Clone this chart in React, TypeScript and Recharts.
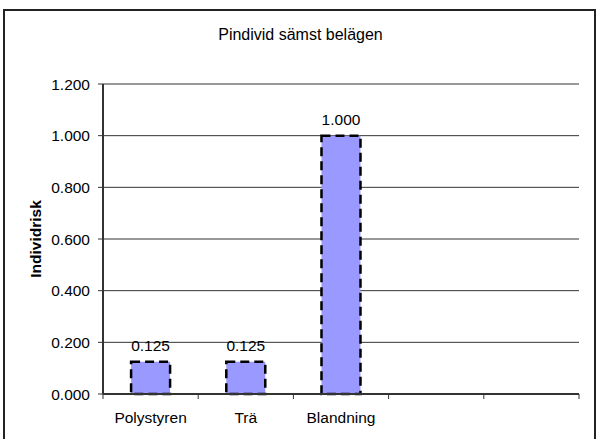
import { BarChart, Bar, XAxis, YAxis, CartesianGrid, LabelList } from "recharts";

const categories = ["Polystyren", "Trä", "Blandning", "", ""];
const risk: (number | null)[] = [0.125, 0.125, 1.0, null, null];
const yTicks = [0, 0.2, 0.4, 0.6, 0.8, 1.0, 1.2];

const data = categories.map((name, i) => ({ name, value: risk[i] }));

const FONT = "Arial, 'Liberation Sans', sans-serif";

const CategoryTick = (props: any) => {
  const { x, y, payload, index } = props;
  const half = payload.offset ?? 0;
  const axisY = y - 18;
  const isLast = index === categories.length - 1;
  return (
    <g>
      <line x1={x - half} x2={x - half} y1={axisY} y2={axisY + 5} stroke="#333" />
      {isLast && <line x1={x + half} x2={x + half} y1={axisY} y2={axisY + 5} stroke="#333" />}
      <text x={x} y={y} dy="0.71em" textAnchor="middle" fontSize={15.5} fontFamily={FONT} fill="#000">
        {payload.value}
      </text>
    </g>
  );
};

export default function App() {
  return (
    <div style={{ position: "absolute", left: 0, top: 0, width: 597, height: 439, background: "#fff", overflow: "hidden" }}>
      <div
        style={{
          position: "absolute",
          left: 3,
          top: 9,
          width: 589,
          height: 450,
          border: "2px solid #222",
        }}
      />
      <div
        style={{
          position: "absolute",
          left: 0,
          top: 26,
          width: 601,
          textAlign: "center",
          fontFamily: FONT,
          fontSize: 16,
          color: "#000",
        }}
      >
        Pindivid sämst belägen
      </div>
      <BarChart
        width={597}
        height={439}
        data={data}
        margin={{ top: 84, right: 18, bottom: 0, left: 33 }}
        barCategoryGap="29.5%"
        style={{ position: "absolute", left: 0, top: 0 }}
      >
        <CartesianGrid vertical={false} stroke="#333" />
        <XAxis
          dataKey="name"
          height={45}
          tickSize={0}
          tickMargin={18}
          interval={0}
          axisLine={{ stroke: "#333", strokeWidth: 2 }}
          tickLine={false}
          tick={<CategoryTick />}
        />
        <YAxis
          width={70}
          domain={[0, 1.2]}
          ticks={yTicks}
          tickSize={5}
          tickMargin={8}
          tickFormatter={(v: number) => v.toFixed(3)}
          tick={{ fontSize: 15.5, fontFamily: FONT, fill: "#000" }}
          axisLine={{ stroke: "#333", strokeWidth: 2 }}
          tickLine={{ stroke: "#333" }}
          label={{
            value: "Individrisk",
            angle: -90,
            position: "center",
            dx: -33,
            style: { fontSize: 15.5, fontWeight: "bold", fontFamily: FONT, fill: "#000" },
          }}
        />
        <YAxis
          yAxisId="right"
          orientation="right"
          width={0}
          domain={[0, 1.2]}
          tick={false}
          tickLine={false}
          axisLine={{ stroke: "#999", strokeWidth: 2 }}
        />
        <Bar
          dataKey="value"
          fill="#9999FF"
          stroke="#000"
          strokeWidth={2.5}
          strokeDasharray="9 5"
          isAnimationActive={false}
        >
          <LabelList
            dataKey="value"
            position="top"
            offset={11}
            formatter={(v: any) => (v == null ? "" : Number(v).toFixed(3))}
            style={{ fontSize: 15.5, fontFamily: FONT, fill: "#000" }}
          />
        </Bar>
      </BarChart>
    </div>
  );
}
